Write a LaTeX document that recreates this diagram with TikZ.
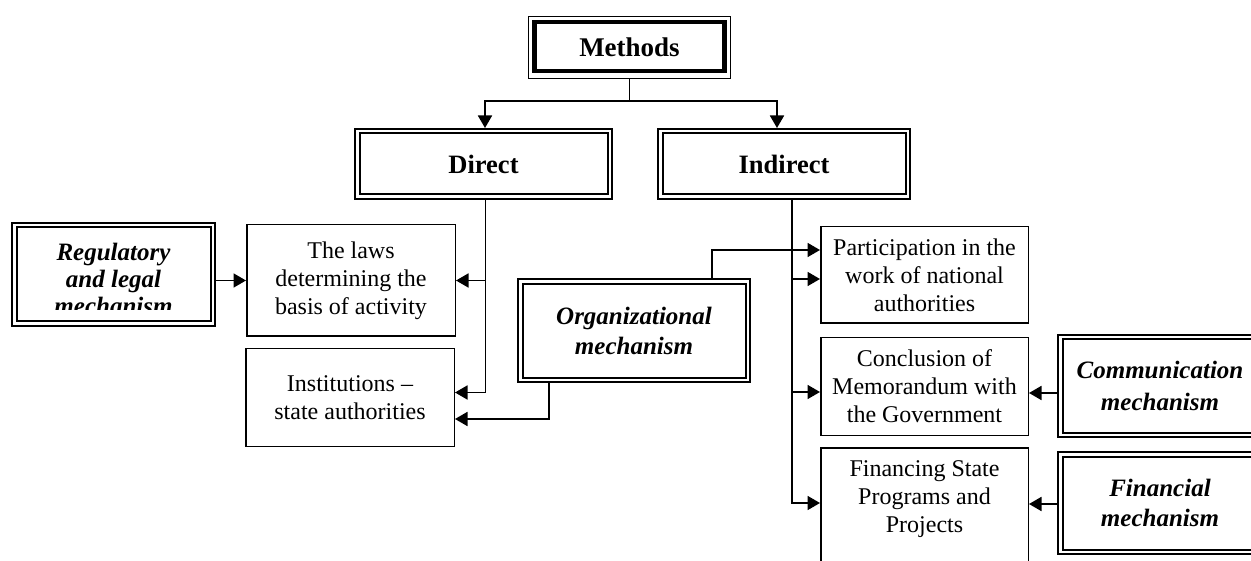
\documentclass[tikz,border=0pt]{standalone}
\usepackage{fontspec}
\setmainfont{Liberation Serif}
\usetikzlibrary{arrows.meta}
\tikzset{
  sbox/.style={draw, line width=1.5pt, inner sep=0pt, outer sep=0.75pt, align=center,
    font=\fontsize{24}{28}\selectfont},
  dbox/.style={draw, double, line width=2pt, double distance=2.5pt, inner sep=0pt,
    outer sep=3.25pt, align=center},
  hd/.style={font=\bfseries\fontsize{26.5}{30}\selectfont},
  mech/.style={font=\bfseries\itshape\fontsize{25}{30}\selectfont},
  plain/.style={align=center, inner sep=0pt, font=\fontsize{24}{28}\selectfont},
  arr/.style={line width=1.8pt, -{Triangle[length=12.5pt,width=14pt]}},
  ln/.style={line width=1.8pt}
}
\begin{document}
\begin{tikzpicture}[x=1pt,y=-1pt]
\useasboundingbox (0,0) rectangle (1251,561);
% Methods
\node[draw, line width=1pt, inner sep=0pt, outer sep=0.5pt, minimum width=202pt, minimum height=62pt, hd, font=\bfseries\fontsize{27}{30}\selectfont] (meth) at (629.5,47.5) {Methods};
\draw[line width=4.5pt] ([shift={(6.5,6)}]meth.north west) rectangle ([shift={(-6.5,-8)}]meth.south east);
% level 2
\node[dbox, hd, minimum width=252.5pt, minimum height=65.5pt] (dir) at (483.5,164) {Direct};
\node[dbox, hd, minimum width=247.5pt, minimum height=65.5pt] (ind) at (784,164) {Indirect};
% left side
\node[dbox, minimum width=198.5pt, minimum height=98.5pt] (reg) at (113.5,274.5) {};
\begin{scope}
\clip (15,226) rectangle (212,310);
\node[align=center, inner sep=0pt, font=\bfseries\itshape\fontsize{25}{27}\selectfont] (regtxt) at (113.5,279) {Regulatory\\and legal\\mechanism};
\end{scope}
\node[sbox, minimum width=208.5pt, minimum height=111.5pt] (laws) at (351,280.5) {The laws\\determining the\\basis of activity};
\node[sbox, minimum width=208.5pt, minimum height=97.5pt] (inst) at (350,397.5) {Institutions --\\state authorities};
\node[dbox, mech, minimum width=227.5pt, minimum height=98.5pt] (org) at (634,331) {Organizational\\mechanism};
% right side
\node[sbox, minimum width=207.5pt, minimum height=96.5pt] (part) at (924.5,275) {Participation in the\\work of national\\authorities};
\node[sbox, minimum width=207.5pt, minimum height=97.5pt] (conc) at (924.5,386.5) {Conclusion of\\Memorandum with\\the Government};
\node[sbox, minimum width=207.5pt, minimum height=171.5pt] (fin) at (924.5,533.5) {};
\node[plain, anchor=north] (fintxt) at (924.5,460) {Financing State\\Programs and\\Projects};
\node[dbox, mech, font=\bfseries\itshape\fontsize{25}{32}\selectfont, minimum width=199.5pt, minimum height=97.5pt] (comm) at (1160,386) {Communication\\mechanism};
\node[dbox, mech, minimum width=199.5pt, minimum height=97.5pt] (finm) at (1160,503) {Financial\\mechanism};
% connectors
\coordinate (mj) at ([yshift=-22pt]meth.south);
\draw[ln] (meth.south) -- (mj);
\draw[arr] (mj) -| ([xshift=1.5pt]dir.north);
\draw[arr] (mj) -| ([xshift=-7pt]ind.north);
\coordinate (dj) at ([xshift=2pt]dir.south);
\draw[arr] (dj) |- (laws.east);
\draw[arr] (dj) |- ([yshift=5pt]inst.east);
\draw[arr] (reg.east |- laws.west) -- (laws.west);
\draw[arr] ([xshift=-39pt]org.north east) |- ([yshift=25pt]part.west);
\draw[arr] ([xshift=32pt]org.south west) |- ([yshift=-21.5pt]inst.east);
\coordinate (ij) at ([xshift=8pt]ind.south);
\draw[arr] (ij) |- ([yshift=-4pt]part.west);
\draw[arr] (ij) |- ([yshift=-5.5pt]conc.west);
\draw[arr] (ij) |- ([yshift=30.5pt]fin.west);
\draw[arr] ([yshift=-7pt]comm.west) coordinate (c1) -- (c1 -| conc.east);
\draw[arr] ([yshift=-1pt]finm.west) coordinate (c2) -- (c2 -| fin.east);
\end{tikzpicture}
\end{document}
